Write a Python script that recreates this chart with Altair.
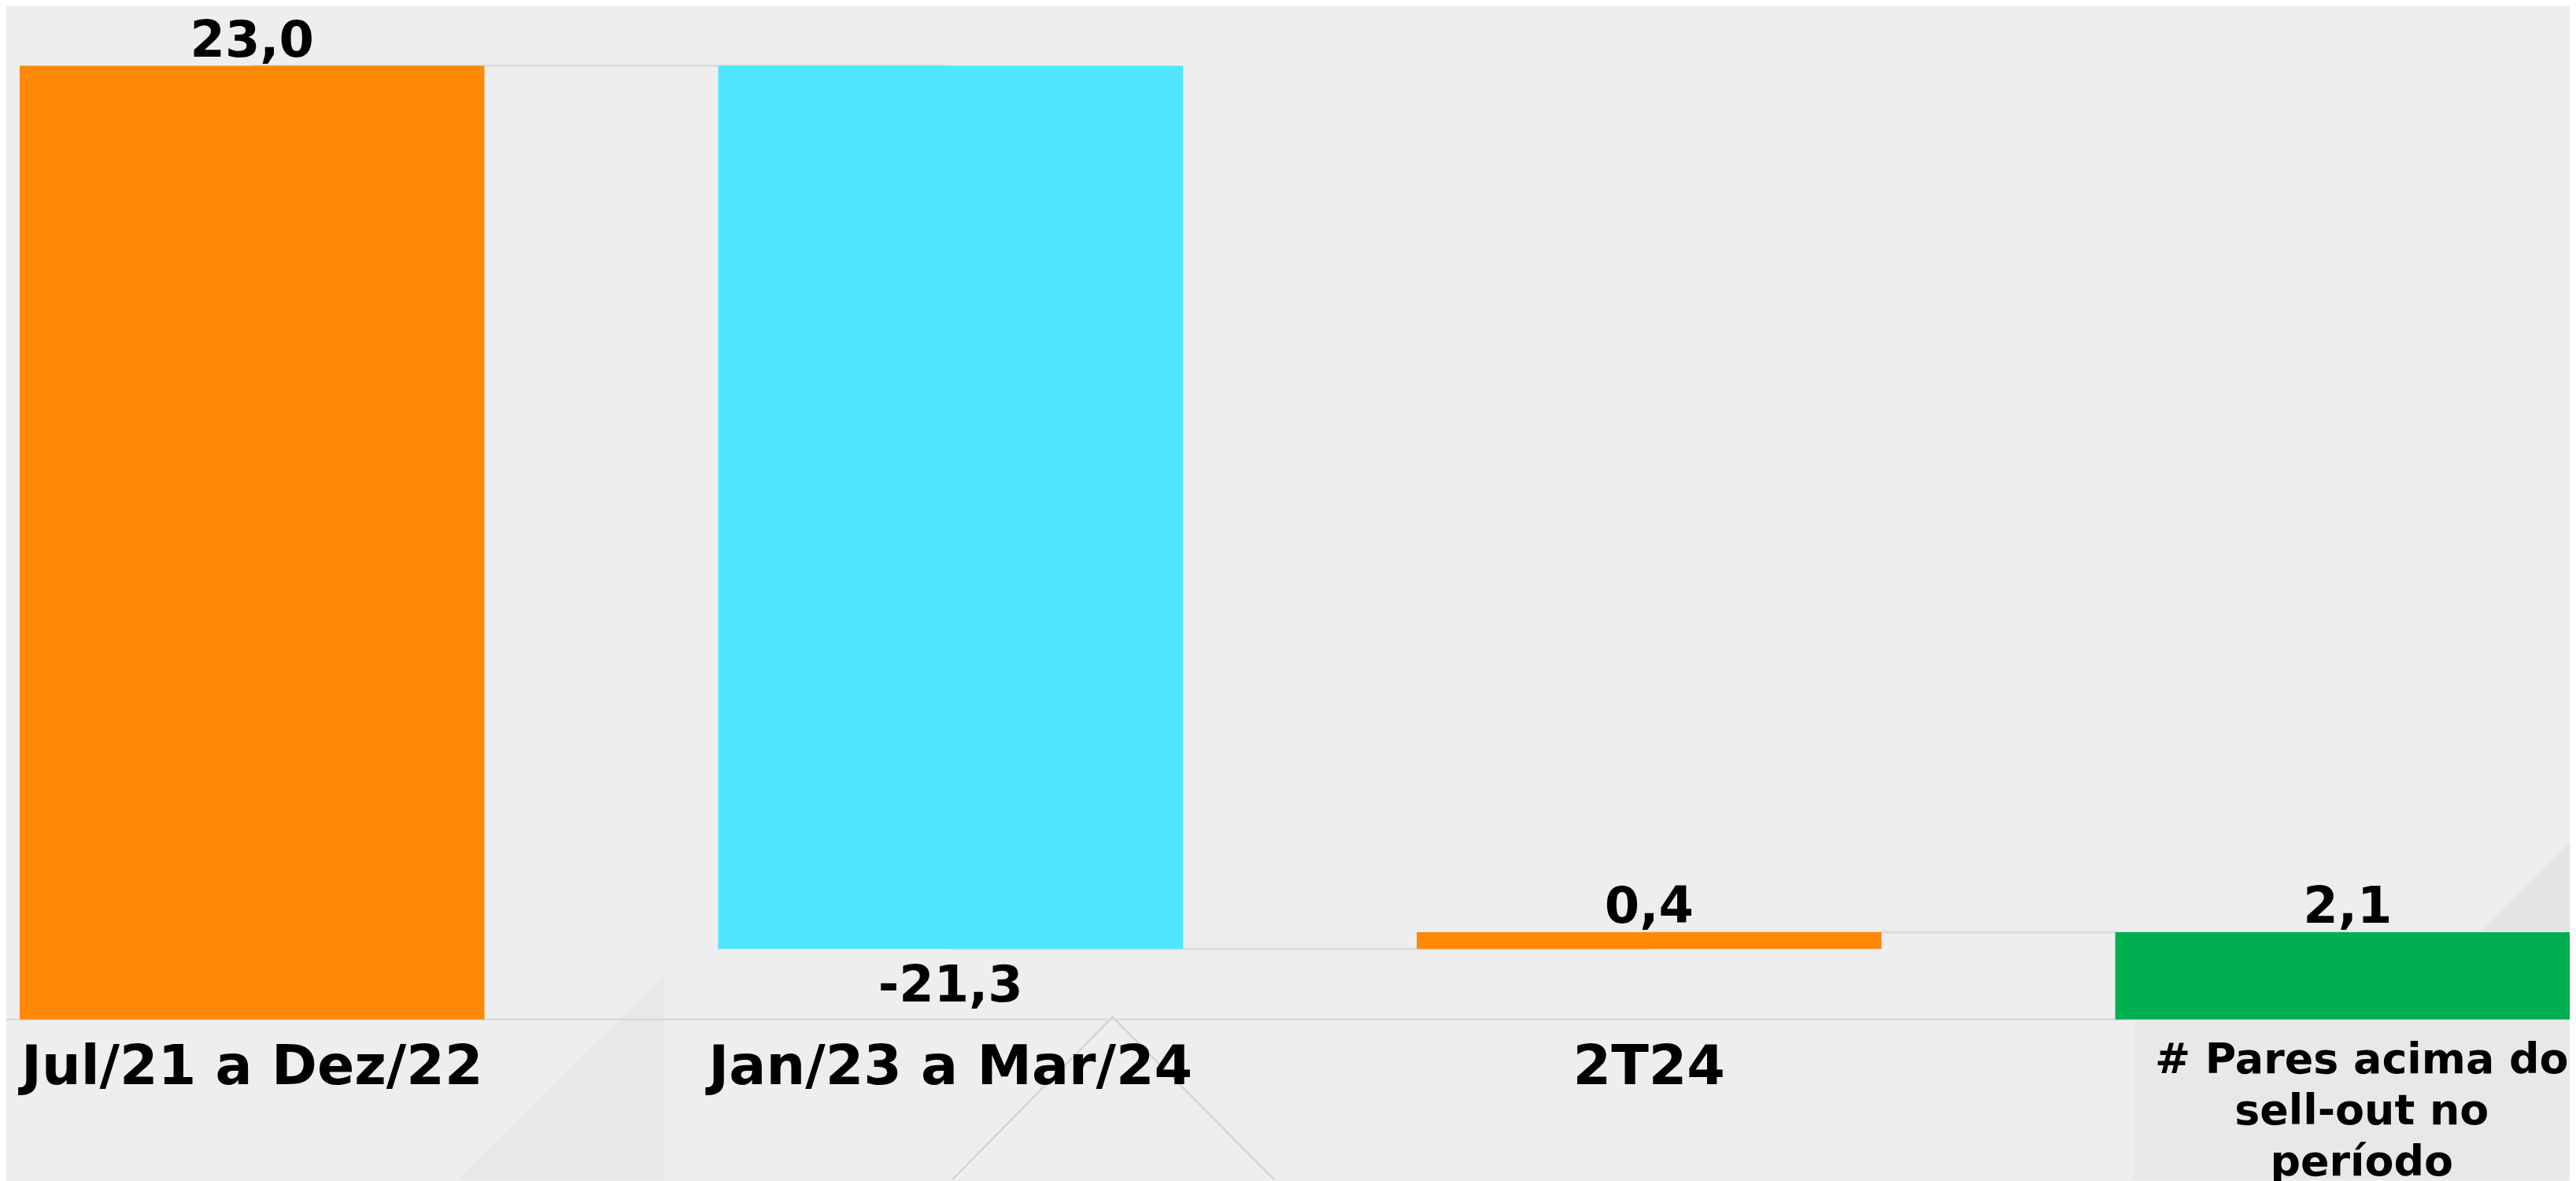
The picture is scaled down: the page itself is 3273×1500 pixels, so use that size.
import altair as alt
import pandas as pd

# ---- data ----
categories = ["Jul/21 a Dez/22", "Jan/23 a Mar/24", "2T24", "# Pares acima do\nsell-out no\nperíodo"]
values = [23.0, -21.3, 0.4, 2.1]
is_total = [False, False, False, True]
bar_colors = ["#FF8806", "#50E5FF", "#FF8806", "#00AF50"]

# decorative background shapes (page pixel coordinates)
deco_area_shape = ["tri_left", "tri_left", "tri_right", "tri_right", "box", "box"]
deco_area_x = [583, 845, 3160, 3273, 2717, 3273]
deco_area_y = [1500, 1240, 1184, 1071, 1299, 1299]
deco_area_y2 = [1500, 1500, 1184, 1184, 1500, 1500]
deco_area_fill = ["#E8E8E8", "#E8E8E8", "#E4E4E4", "#E4E4E4", "#E8E8E8", "#E8E8E8"]
deco_line_x = [1213, 1417, 1623]
deco_line_y = [1500, 1293, 1500]

# ---- layout constants ----
W, H = 3248, 1492
PAD_LEFT = 17
STEP_PX = 889.7
BAR_FRAC = 592 / STEP_PX
X_LO = -BAR_FRAC / 2
X_HI = X_LO + W / STEP_PX
Y_LO, Y_HI = -3.865, 24.40
FONT = "DejaVu Sans"

def px_to_u(px):
    return (px - 8 - PAD_LEFT) / STEP_PX + X_LO

def py_to_v(py):
    return Y_HI - (py - 8) * (Y_HI - Y_LO) / H

# ---- build tables ----
rows = []
running = 0.0
for i, (cat, v, tot, col) in enumerate(zip(categories, values, is_total, bar_colors)):
    if tot:
        start, end = 0.0, v
    else:
        start, end = running, running + v
        running = end
    rows.append({
        "cat": cat, "i": i, "xl": i - BAR_FRAC / 2, "xr": i + BAR_FRAC / 2,
        "value": v, "start": start, "end": end, "color": col,
        "top": max(start, end), "bottom": min(start, end), "zero": 0.0,
        "label": f"{v:.1f}".replace(".", ","),
    })
df = pd.DataFrame(rows)

conn = pd.DataFrame([
    {"i": rows[k]["i"], "inext": rows[k + 1]["i"], "level": rows[k]["end"]}
    for k in range(len(rows) - 1)
])

deco_area = pd.DataFrame({
    "shape": deco_area_shape,
    "ux": [px_to_u(p) for p in deco_area_x],
    "vy": [py_to_v(p) for p in deco_area_y],
    "vy2": [py_to_v(p) for p in deco_area_y2],
    "fill": deco_area_fill,
})
deco_line = pd.DataFrame({
    "ux": [px_to_u(p) for p in deco_line_x],
    "vy": [py_to_v(p) for p in deco_line_y],
    "o": list(range(len(deco_line_x))),
})

xscale = alt.Scale(domain=[X_LO, X_HI], nice=False, zero=False)
yscale = alt.Scale(domain=[Y_LO, Y_HI], nice=False, zero=False)

def X(f):
    return alt.X(f, scale=xscale, axis=None)

def Y(f):
    return alt.Y(f, scale=yscale, axis=None)

deco_a = alt.Chart(deco_area).mark_area(clip=True).encode(
    x=X("ux:Q"), y=Y("vy:Q"), y2="vy2:Q",
    detail="shape:N",
    color=alt.Color("fill:N", scale=None),
)
deco_l = alt.Chart(deco_line).mark_line(color="#CFCFCF", strokeWidth=2, clip=True).encode(
    x=X("ux:Q"), y=Y("vy:Q"), order="o:Q",
)

baseline = alt.Chart(df.head(1)).mark_rule(color="#D9D9D9", strokeWidth=2.5).encode(
    y=Y("zero:Q"), x=alt.value(-PAD_LEFT), x2=alt.value(W)
)

connectors = alt.Chart(conn).mark_rule(color="#D9D9D9", strokeWidth=2.5).encode(
    x=X("i:Q"), x2="inext:Q", y=Y("level:Q"),
)

bars = alt.Chart(df).mark_bar(clip=True).encode(
    x=X("xl:Q"), x2="xr:Q",
    y=Y("start:Q"), y2="end:Q",
    color=alt.Color("color:N", scale=None),
)

val_pos = alt.Chart(df).transform_filter("datum.value >= 0").mark_text(
    font=FONT, fontWeight="bold", fontSize=64, color="#000000",
    baseline="alphabetic", align="center", dy=-12,
).encode(x=X("i:Q"), y=Y("top:Q"), text="label:N")

val_neg = alt.Chart(df).transform_filter("datum.value < 0").mark_text(
    font=FONT, fontWeight="bold", fontSize=64, color="#000000",
    baseline="alphabetic", align="center", dy=67,
).encode(x=X("i:Q"), y=Y("bottom:Q"), text="label:N")

cat_main = alt.Chart(df.iloc[:3]).mark_text(
    font=FONT, fontWeight="bold", fontSize=70, color="#000000",
    baseline="alphabetic", align="center",
).encode(x=X("i:Q"), y=alt.value(1371), text="cat:N")

cat_total = alt.Chart(df.iloc[3:]).mark_text(
    font=FONT, fontWeight="bold", fontSize=54, color="#000000",
    baseline="alphabetic", align="center", lineBreak="\n", lineHeight=65.5, dx=18,
).encode(x=X("i:Q"), y=alt.value(1356), text="cat:N")

chart = alt.layer(
    deco_a, deco_l, baseline, connectors, bars, val_pos, val_neg, cat_main, cat_total
).properties(
    width=W, height=H,
    padding={"left": PAD_LEFT, "top": 0, "right": 0, "bottom": 0},
    autosize=alt.AutoSizeParams(type="none"),
    background="#EEEEEE",
).configure_view(stroke=None)

chart.save("out.html", embed_options={"renderer": "svg", "actions": False})
